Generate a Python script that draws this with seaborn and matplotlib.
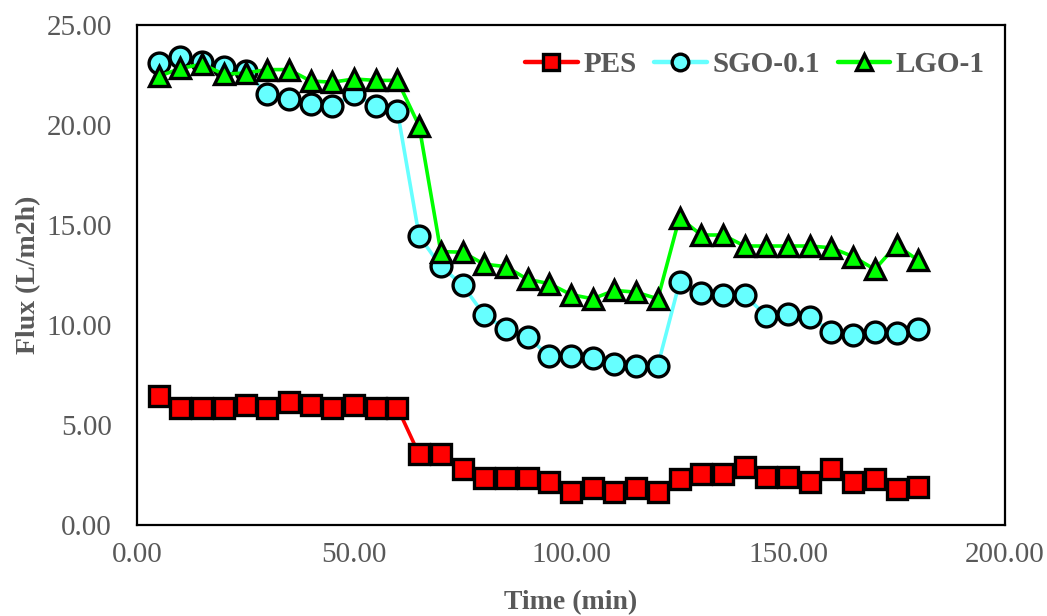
import seaborn as sns
import matplotlib.pyplot as plt
import pandas as pd

# ======================================
# DATA
# ======================================

time_min = [5, 10, 15, 20, 25, 30, 35, 40, 45, 50, 55, 60,
            65, 70, 75, 80, 85, 90, 95, 100, 105, 110, 115, 120,
            125, 130, 135, 140, 145, 150, 155, 160, 165, 170, 175, 180]

pes_flux = [6.45, 5.87, 5.87, 5.87, 6.00, 5.87, 6.13, 6.00, 5.87, 6.00, 5.87, 5.87,
            3.53, 3.53, 2.80, 2.33, 2.33, 2.33, 2.15, 1.67, 1.83, 1.67, 1.83, 1.67,
            2.30, 2.55, 2.55, 2.90, 2.40, 2.40, 2.17, 2.80, 2.17, 2.30, 1.80, 1.90]

sgo_flux = [23.08, 23.40, 23.15, 22.90, 22.70, 21.55, 21.30, 21.05, 20.95, 21.55, 20.95, 20.70,
            14.45, 12.93, 12.00, 10.50, 9.80, 9.42, 8.43, 8.45, 8.33, 8.05, 7.97, 7.97,
            12.13, 11.60, 11.50, 11.50, 10.45, 10.55, 10.40, 9.67, 9.50, 9.67, 9.58, 9.78]

lgo_flux = [22.43, 22.83, 23.04, 22.54, 22.60, 22.77, 22.77, 22.20, 22.14, 22.30, 22.23, 22.23,
            19.96, 13.67, 13.64, 13.04, 12.92, 12.28, 12.07, 11.52, 11.31, 11.73, 11.64, 11.31,
            15.37, 14.50, 14.50, 13.95, 13.95, 13.95, 13.95, 13.86, 13.42, 12.78, 14.00, 13.23]

series_names = ["PES", "SGO-0.1", "LGO-1"]
series_colors = ["#FF0000", "#66FFFF", "#00FF00"]
series_markers = ["s", "o", "^"]

flux_df = pd.DataFrame({
    "Time": time_min,
    "PES": pes_flux,
    "SGO-0.1": sgo_flux,
    "LGO-1": lgo_flux,
})

# ======================================
# PLOT
# ======================================

sns.set_style("white")
plt.rcParams["font.family"] = ["Liberation Serif", "DejaVu Serif"]

fig = plt.figure(figsize=(10.47, 6.16), dpi=100)
ax = fig.add_axes([137 / 1047, 1 - 525 / 616, 868 / 1047, 500 / 616])

marker_sizes = {"s": 14, "o": 15, "^": 15}

for name, color, marker in zip(series_names, series_colors, series_markers):
    sns.lineplot(
        data=flux_df,
        x="Time",
        y=name,
        ax=ax,
        color=color,
        linewidth=2.6,
        marker=marker,
        markersize=marker_sizes[marker],
        markerfacecolor=color,
        markeredgecolor="black",
        markeredgewidth=2.4,
        label=name,
    )

ax.set_xlim(0, 200)
ax.set_ylim(0, 25)
ax.set_xticks([0, 50, 100, 150, 200])
ax.set_yticks([0, 5, 10, 15, 20, 25])
ax.xaxis.set_major_formatter(plt.FormatStrFormatter("%.2f"))
ax.yaxis.set_major_formatter(plt.FormatStrFormatter("%.2f"))

ax.tick_params(axis="both", length=0, labelsize=21, labelcolor="#595959")
ax.tick_params(axis="y", pad=18)
ax.tick_params(axis="x", pad=12)

for spine in ax.spines.values():
    spine.set_visible(True)
    spine.set_color("black")
    spine.set_linewidth(1.6)

ax.set_xlabel("Time (min)", fontsize=20, fontweight="bold", color="#595959", labelpad=16)
ax.set_ylabel("Flux (L/m2h)", fontsize=20, fontweight="bold", color="#595959", labelpad=4)

legend = ax.legend(
    loc="center right",
    bbox_to_anchor=(985 / 1047, 1 - 65 / 616),
    bbox_transform=fig.transFigure,
    ncol=3,
    frameon=False,
    borderaxespad=0,
    borderpad=0,
    handlelength=1.8,
    handletextpad=0.2,
    columnspacing=0.6,
    markerscale=0.8,
    prop={"size": 21, "weight": "bold"},
)
for text in legend.get_texts():
    text.set_color("#595959")
for line in legend.get_lines():
    line.set_linewidth(3.2)

fig.savefig("out.png", dpi=100)
plt.close(fig)
